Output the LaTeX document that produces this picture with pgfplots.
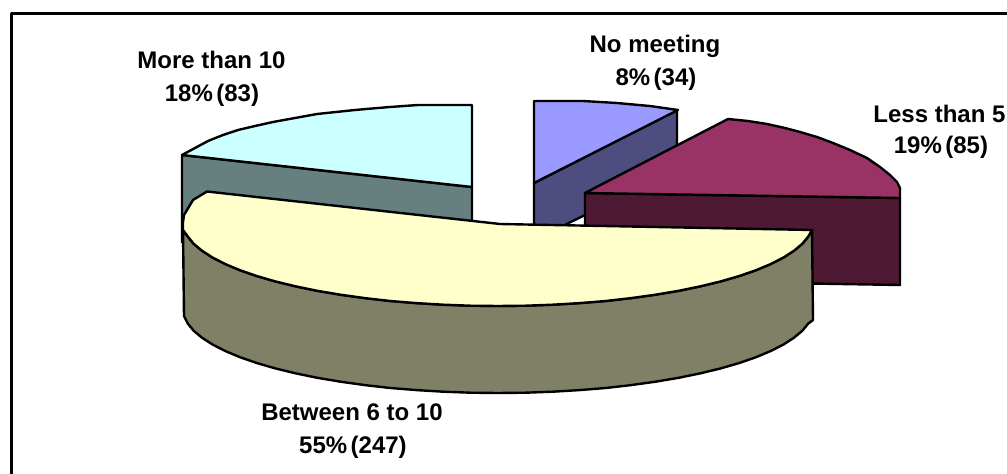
\documentclass[border=0pt]{standalone}
\usepackage{fontspec}
\setmainfont{Liberation Sans}
\usepackage{pgfplots}
\pgfplotsset{compat=1.18}
\definecolor{skyTop}{HTML}{CCFFFF}
\definecolor{skySide}{HTML}{668080}
\definecolor{creamTop}{HTML}{FFFFCC}
\definecolor{creamSide}{HTML}{808066}
\definecolor{plumTop}{HTML}{993366}
\definecolor{plumSide}{HTML}{4D1933}
\definecolor{blueTop}{HTML}{9999FF}
\definecolor{blueSide}{HTML}{4D4D80}
\newcommand{\slicelabel}[2]{\node[anchor=base,font=\fontsize{24}{25}\selectfont\bfseries] at (axis cs:#1) {#2};}
\begin{document}
\begin{tikzpicture}
\begin{axis}[
  scale only axis, width=1007pt, height=474pt,
  xmin=0, xmax=1007, ymin=0, ymax=474, y dir=reverse,
  hide axis, clip=true,
  every axis plot/.append style={draw=black, line width=2.4pt, line join=round},
]
% invisible diagonal that keeps the full canvas in the bounding box
\addplot[draw=none, forget plot] coordinates {(0,0) (1007,474)};

% outer frame, open at the right and bottom edges
\addplot[line width=3pt] coordinates {(11.5,474) (11.5,13) (1007,13)};

% No meeting
\addplot[fill=blueSide] coordinates {(534,183) (677,110) (677,170) (534,240)} -- cycle;
\addplot[fill=blueTop] coordinates {(534,101) (583,101) (617,103) (650,106) (678,110) (534,183)} -- cycle;

% Less than 5
\addplot[fill=plumSide] coordinates {(585,193) (900,198) (900,285) (780,283) (585,240)} -- cycle;
\addplot[fill=plumTop] coordinates {(585,193) (728,119) (748,121) (767,124) (785,128) (800,132) (817,137) (833,143) (850,150) (867,158) (880,167) (890,175) (897,182) (900,188) (900,198)} -- cycle;

% More than 10
\addplot[fill=skySide] coordinates {(182,155) (472,187) (472,235) (182,242)} -- cycle;
\addplot[fill=skyTop] coordinates {(182,155) (195,148) (208,141) (223,135) (238,130) (255,126) (273,122) (295,118) (317,114) (336,112) (355,110) (372,108.5) (390,107) (404,106) (418,105) (472,105) (472,187)} -- cycle;

% Between 6 to 10
\addplot[fill=creamSide] coordinates {
  (183,230) (187.8,236.6) (193.7,243.8) (202,250.7) (212.5,257.5) (225.2,264) (240,270.2) (256.7,276) (275.3,281.4)
  (295.5,286.3) (317.3,290.8) (340.5,294.7) (364.9,298.1) (390.3,301) (416.5,303.1) (443.3,304.7) (470.5,305.7) (498,306)
  (525.5,305.7) (552.7,304.7) (579.5,303.1) (605.7,301) (631.1,298.1) (655.5,294.7) (678.7,290.8) (700.5,286.3) (720.7,281.4)
  (739.3,276) (756,270.2) (770.8,264) (783.5,257.5) (794,250.7) (802.3,243.8) (808.2,236.6) (812,230)
  (813,320) (808.2,323.6) (802.3,330.8) (794,337.7) (783.5,344.5) (770.8,351) (756,357.2) (739.3,363) (720.7,368.4)
  (700.5,373.3) (678.7,377.8) (655.5,381.7) (631.1,385.1) (605.7,388) (579.5,390.1) (552.7,391.7) (525.5,392.7) (498,393)
  (470.5,392.7) (443.3,391.7) (416.5,390.1) (390.3,388) (364.9,385.1) (340.5,381.7) (317.3,377.8) (295.5,373.3) (275.3,368.4)
  (256.7,363) (240,357.2) (225.2,351) (212.5,344.5) (202,337.7) (193.7,330.8) (187.8,323.6) (184,316)} -- cycle;
\addplot[fill=creamTop] coordinates {
  (207,191.5) (500,224) (812,230) (808.2,236.6) (802.3,243.8) (794,250.7) (783.5,257.5) (770.8,264) (756,270.2) (739.3,276)
  (720.7,281.4) (700.5,286.3) (678.7,290.8) (655.5,294.7) (631.1,298.1) (605.7,301) (579.5,303.1) (552.7,304.7) (525.5,305.7)
  (498,306) (470.5,305.7) (443.3,304.7) (416.5,303.1) (390.3,301) (364.9,298.1) (340.5,294.7) (317.3,290.8) (295.5,286.3)
  (275.3,281.4) (256.7,276) (240,270.2) (225.2,264) (212.5,257.5) (202,250.7) (193.7,243.8) (187.8,236.6) (183,230)
  (183,222) (184,215) (193,200)} -- cycle;

\slicelabel{211.5,68}{More than 10}
\slicelabel{212,101}{18\%\kern3.5pt(83)}
\slicelabel{655,52}{No meeting}
\slicelabel{656,85}{8\%\kern3.5pt(34)}
\slicelabel{939.5,122}{Less than 5}
\slicelabel{941,153}{19\%\kern3.5pt(85)}
\slicelabel{352,420}{Between 6 to 10}
\slicelabel{353,453}{55\%\kern3.5pt(247)}
\end{axis}
\end{tikzpicture}
\end{document}
